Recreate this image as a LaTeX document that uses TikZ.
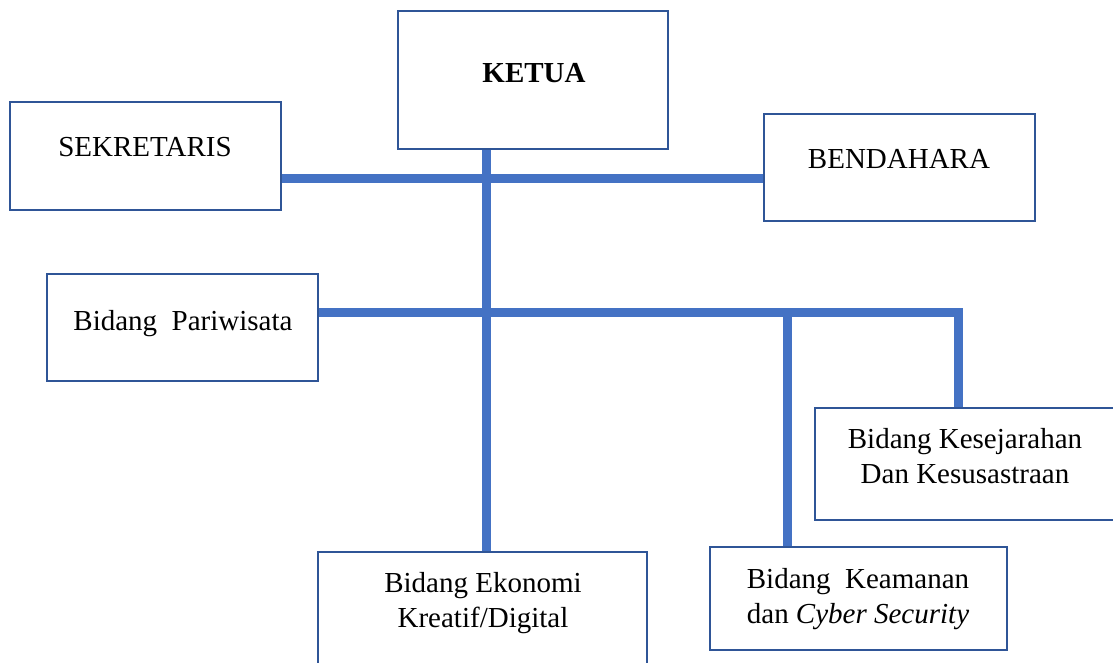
\documentclass[tikz,border=0pt]{standalone}
\usepackage{fontspec}
\setmainfont{Liberation Serif}
\definecolor{linkblue}{HTML}{4472C4}
\definecolor{boxblue}{HTML}{2F5597}
\begin{document}
\begin{tikzpicture}[x=1pt,y=1pt,
  orgbox/.style={draw=boxblue, line width=2.6pt, fill=white, rectangle, inner sep=0pt},
  lbl/.style={font=\fontsize{29}{35}\selectfont, align=center, inner sep=0pt},
  link/.style={draw=linkblue, line width=9pt}]
\useasboundingbox (0,0) rectangle (1113,-662);
% boxes
\node[orgbox, minimum width=270, minimum height=138] (ketua) at (533,-80) {};
\node[orgbox, minimum width=271, minimum height=108] (sekretaris) at (145.5,-156) {};
\node[orgbox, minimum width=271, minimum height=107] (bendahara) at (899.5,-167.5) {};
\node[orgbox, minimum width=271, minimum height=107] (pariwisata) at (182.5,-327.5) {};
\node[orgbox, minimum width=329, minimum height=140] (ekonomi) at (482.5,-622) {};
\node[orgbox, minimum width=297, minimum height=103] (keamanan) at (858.5,-598.5) {};
\node[orgbox, minimum width=320, minimum height=112] (kesejarahan) at (975,-464) {};
% connector coordinates
\coordinate (trunk) at (486,0);
\coordinate (htop) at (0,-178);
\coordinate (hmid) at (0,-312);
\coordinate (brA) at (787,0);
\coordinate (brB) at (958,0);
% connectors
\draw[link] (ketua.south -| trunk) -- (ekonomi.north -| trunk);
\draw[link] (sekretaris.east |- htop) -- (bendahara.west |- htop);
\draw[link] (pariwisata.east |- hmid) -- (brB |- hmid) -- (kesejarahan.north -| brB);
\draw[link] (brA |- hmid) -- (keamanan.north -| brA);
% labels
\node[lbl, anchor=base] (ketuat) at (534,-82) {\textbf{KETUA}};
\node[lbl, anchor=base] (sekretarist) at (145,-156) {SEKRETARIS};
\node[lbl, anchor=base] (bendaharat) at (899,-168) {BENDAHARA};
\node[lbl, anchor=base] (pariwisatat) at (183,-330) {Bidang\ \ Pariwisata};
\node[lbl] (ekonomit) at (483,-603) {Bidang Ekonomi\\Kreatif/Digital};
\node[lbl] (keamanant) at (858,-599) {Bidang\ \ Keamanan\\dan \textit{Cyber Security}};
\node[lbl] (kesejarahant) at (965,-456) {Bidang Kesejarahan\\Dan Kesusastraan};
\end{tikzpicture}
\end{document}
